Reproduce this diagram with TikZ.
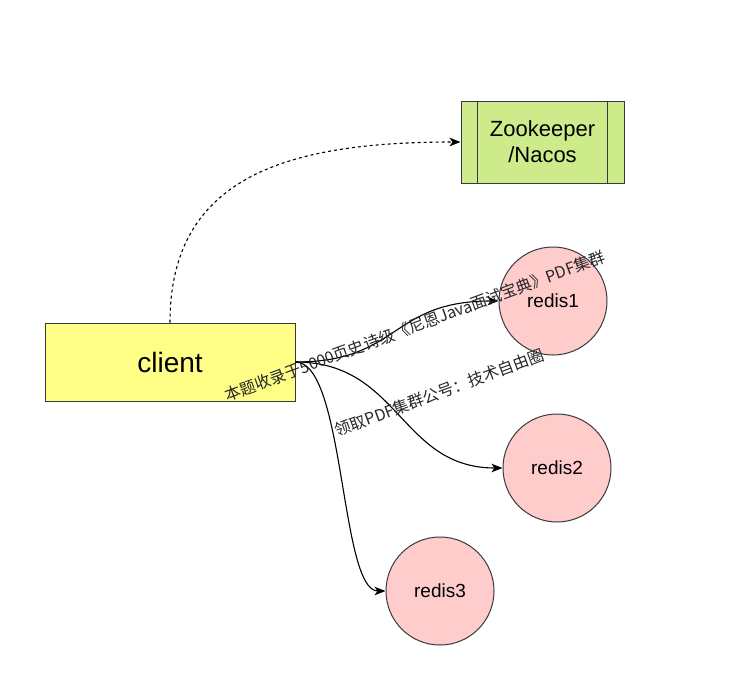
\documentclass[tikz,border=0pt]{standalone}
\usepackage{fontspec}
\setmainfont{Liberation Sans}
\newfontfamily\cjk{Noto Sans CJK SC}
\usetikzlibrary{arrows.meta}
\definecolor{clientfill}{HTML}{FFFF88}
\definecolor{zkfill}{HTML}{CDEB8B}
\definecolor{redisfill}{HTML}{FFCCCC}
\definecolor{edge}{HTML}{36393D}
\tikzset{
  boxstyle/.style={draw=edge, line width=1pt, inner sep=0pt},
  redisnode/.style={circle, draw=edge, line width=1pt, fill=redisfill, minimum size=108pt, inner sep=0pt, font=\fontsize{19}{22}\selectfont},
  conn/.style={line width=1.1pt, -{Stealth[length=11pt,width=8.5pt,inset=3pt]}},
  wmark/.style={font=\cjk\fontsize{16}{19}\selectfont, rotate=20.3, inner sep=0pt, text=black!85},
}
\begin{document}
\begin{tikzpicture}[x=1pt,y=-1pt]
\useasboundingbox (0,0) rectangle (731,699);
\node[boxstyle, fill=clientfill, minimum width=250pt, minimum height=78pt, font=\fontsize{28}{32}\selectfont] (client) at (170,362) {client};
\node[boxstyle, fill=zkfill, minimum width=163pt, minimum height=82pt, align=center, font=\fontsize{22}{26}\selectfont] (zk) at (542.5,142) {Zookeeper\\/Nacos};
\draw[edge, line width=1pt] ([xshift=17pt]zk.north west) -- ([xshift=17pt]zk.south west);
\draw[edge, line width=1pt] ([xshift=-17pt]zk.north east) -- ([xshift=-17pt]zk.south east);
\node[redisnode] (r1) at (553,301) {redis1};
\node[redisnode] (r2) at (557,468) {redis2};
\node[redisnode] (r3) at (440,591) {redis3};
\draw[conn, dashed] (client.north) .. controls (170,175) and (290,142) .. (zk.west);
\draw[conn] (client.east) .. controls (400,362) and (390,301) .. (r1.west);
\draw[conn] (client.east) .. controls (400,362) and (400,468) .. (r2.west);
\draw[conn] (client.east) .. controls (345,362) and (340,591) .. (r3.west);
\node[wmark] (m1) at (415,326) {本题收录于5000页史诗级《尼恩Java面试宝典》PDF集群};
\node[wmark] (m2) at (439.5,392.5) {领取PDF集群公号：技术自由圈};
\end{tikzpicture}
\end{document}
